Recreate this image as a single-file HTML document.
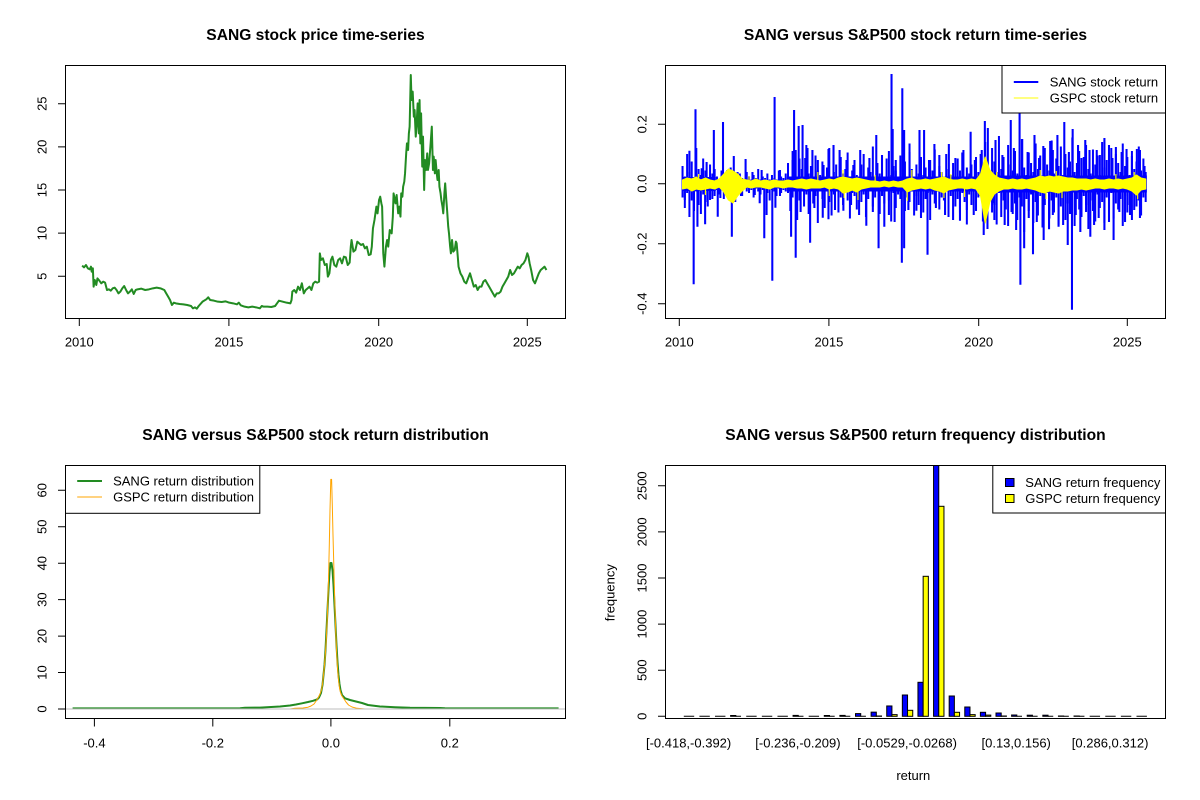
<!DOCTYPE html>
<html><head><meta charset="utf-8"><style>
html,body{margin:0;padding:0;background:#fff;}
svg{display:block;}
text{font-family:"Liberation Sans",Arial,sans-serif;fill:#000;}
.t{font-size:15.6px;font-weight:bold;}
.l{font-size:13px;}
</style></head><body>
<svg width="1200" height="800" viewBox="0 0 1200 800" xmlns="http://www.w3.org/2000/svg">
<rect width="1200" height="800" fill="#fff"/>
<defs>
<clipPath id="c1"><rect x="65.5" y="65.5" width="500" height="253"/></clipPath>
<clipPath id="c2"><rect x="665.5" y="65.5" width="500" height="253"/></clipPath>
<clipPath id="c3"><rect x="65.5" y="465.5" width="500" height="253"/></clipPath>
<clipPath id="c4"><rect x="665.5" y="465.5" width="500" height="253"/></clipPath>
</defs>

<!-- ================= TOP LEFT ================= -->
<text class="t" x="315.5" y="40" text-anchor="middle">SANG stock price time-series</text>
<g clip-path="url(#c1)">
<g transform="matrix(0.38212,0,0,0.33333,0,60)">
<polyline vector-effect="non-scaling-stroke" fill="none" stroke="#228B22" stroke-width="2" stroke-linejoin="round" points="215,617 220,622 225,615 230,625 235,628 238,620 240,635 243,625 245,680 248,660 252,675 255,655 260,662 265,670 270,665 275,668 280,690 285,688 290,692 295,685 300,683 305,690 310,700 315,695 320,685 325,678 330,690 335,700 340,695 345,688 350,702 355,690 360,688 370,686 380,690 390,688 400,685 410,683 420,685 430,690 435,700 440,710 445,720 450,735 455,728 460,730 470,732 480,733 490,735 500,738 505,745 510,742 515,746 520,738 530,725 540,718 545,712 550,720 560,722 570,725 580,726 590,724 600,728 610,730 620,733 625,728 630,736 640,740 650,742 660,740 670,742 680,745 685,738 690,740 700,740 710,741 720,738 725,730 730,722 740,725 750,728 760,730 763,720 765,695 770,690 775,698 780,680 785,690 790,670 795,700 800,690 805,685 810,680 815,690 820,670 825,665 830,668 835,665 837,580 840,600 845,595 850,615 855,612 858,650 862,640 866,600 870,590 875,615 880,620 885,600 890,595 895,610 900,590 905,592 910,615 915,608 918,560 920,540 925,575 930,570 935,545 940,550 945,555 950,552 955,565 960,560 965,585 970,583 973,560 976,505 980,480 985,440 988,460 992,420 995,410 998,430 1000,440 1003,580 1006,620 1010,560 1013,540 1016,560 1020,510 1025,520 1028,470 1030,400 1035,430 1038,405 1042,460 1045,440 1048,470 1050,400 1053,410 1055,380 1058,365 1060,340 1063,280 1065,250 1068,270 1070,220 1072,200 1075,45 1077,120 1080,95 1083,170 1085,150 1088,230 1090,200 1093,130 1096,220 1098,120 1100,250 1102,160 1105,320 1107,230 1110,390 1112,300 1115,330 1118,280 1120,330 1123,310 1125,280 1127,250 1130,200 1133,330 1135,290 1138,340 1140,300 1143,340 1145,360 1148,330 1150,380 1153,400 1155,420 1158,440 1160,460 1163,400 1165,370 1168,420 1170,450 1173,500 1175,520 1178,560 1180,580 1183,540 1186,575 1190,570 1193,545 1195,550 1198,590 1200,620 1205,640 1210,650 1215,665 1220,670 1225,655 1230,640 1235,660 1240,680 1245,675 1250,690 1255,680 1260,680 1265,665 1270,660 1275,670 1280,680 1285,690 1290,700 1295,710 1300,700 1305,700 1310,695 1315,680 1320,670 1325,660 1330,650 1335,630 1340,645 1345,640 1350,630 1355,620 1360,625 1365,615 1370,610 1375,600 1380,580 1383,590 1386,610 1390,630 1395,660 1400,670 1405,655 1410,640 1415,630 1420,625 1425,620 1430,630"/>
</g>
</g>
<rect x="65.5" y="65.5" width="500" height="253" fill="none" stroke="#000" stroke-width="1"/>
<path d="M79.3,318.5V326M228.9,318.5V326M378.7,318.5V326M527.3,318.5V326M58,276.3H65.5M58,233.15H65.5M58,190H65.5M58,146.85H65.5M58,103.7H65.5" stroke="#000" stroke-width="1"/>
<text class="l" x="79.3" y="346.5" text-anchor="middle">2010</text>
<text class="l" x="228.9" y="346.5" text-anchor="middle">2015</text>
<text class="l" x="378.7" y="346.5" text-anchor="middle">2020</text>
<text class="l" x="527.3" y="346.5" text-anchor="middle">2025</text>
<text class="l" transform="translate(46.3,276.3) rotate(-90)" text-anchor="middle">5</text>
<text class="l" transform="translate(46.3,233.15) rotate(-90)" text-anchor="middle">10</text>
<text class="l" transform="translate(46.3,190) rotate(-90)" text-anchor="middle">15</text>
<text class="l" transform="translate(46.3,146.85) rotate(-90)" text-anchor="middle">20</text>
<text class="l" transform="translate(46.3,103.7) rotate(-90)" text-anchor="middle">25</text>

<!-- ================= TOP RIGHT ================= -->
<text class="t" x="915.5" y="40" text-anchor="middle">SANG versus S&amp;P500 stock return time-series</text>
<g clip-path="url(#c2)">
<g transform="matrix(1.1464,0,0,1,-87.84,0)">
<path fill="#0000FF" d="M672,177H701V180H763V176.5H931V175.5H1077V192.5H931V191.5H763V188H701V191H672Z"/>
</g>
<g transform="matrix(1.1464,0,0,1.5,-87.84,-92)">
<path fill="none" stroke="#0000FF" stroke-width="1.75" d="M672,172V193M674,179V200M676,164V190M678,176V206M680,169V195M682,180V202M684,160V189M686,174V198M688,178V204M690,167V191M692,175V196M694,181V199M696,171V189M698,177V194M700,174V192M702,179V188M704,181V191M706,175V187M708,180V194M710,178V189M712,181V188M714,173V190M716,180V187M718,179V196M720,181V189M722,177V188M724,180V192M726,181V187M728,176V189M730,179V190M732,181V188M734,178V193M736,180V187M738,174V189M740,181V191M742,179V188M744,180V187M746,177V190M748,181V195M750,178V188M752,180V189M754,181V192M756,175V187M758,179V190M760,180V188M762,177V189M764,170V190M766,180V202M768,162V193M770,176V187M772,181V208M774,167V195M776,174V189M778,179V199M780,158V191M782,177V204M784,172V188M786,181V197M788,165V192M790,175V210M792,178V189M794,169V194M796,180V200M798,173V187M800,160V196M802,179V205M804,176V191M806,171V188M808,181V203M810,166V193M812,177V198M814,174V189M816,163V195M818,180V207M820,175V190M822,168V192M824,178V201M826,181V187M828,171V196M830,164V191M832,179V206M834,173V194M836,176V189M838,159V199M840,180V193M842,170V188M844,177V204M846,174V192M848,181V197M850,167V187M852,162V195M854,178V209M856,172V190M858,175V200M860,180V191M862,165V194M864,176V188M866,169V202M868,179V193M870,157V196M872,174V189M874,181V205M876,171V192M878,177V198M880,166V187M882,178V203M884,173V194M886,180V190M888,168V208M890,175V191M892,161V197M894,179V188M896,172V201M898,176V193M900,181V195M902,164V189M904,174V206M906,178V192M908,170V187M910,180V199M912,167V194M914,175V203M916,163V190M918,179V196M920,173V211M922,177V191M924,171V198M926,181V189M928,166V202M930,176V193M932,164V192M934,178V209M936,156V196M938,172V214M940,179V191M942,160V203M944,169V198M946,176V211M948,152V190M950,174V206M952,166V195M954,179V201M956,158V212M958,171V189M960,175V204M962,162V197M964,177V208M966,168V193M968,154V199M970,173V216M972,178V194M974,163V202M976,170V191M978,176V210M980,157V196M982,174V205M984,165V192M986,179V213M988,160V198M990,171V190M992,175V207M994,155V195M996,177V203M998,167V193M1000,172V211M1002,159V199M1004,178V191M1006,164V208M1008,173V197M1010,169V204M1012,153V189M1014,176V212M1016,170V194M1018,162V201M1020,179V206M1022,166V192M1024,158V198M1026,174V214M1028,177V195M1030,161V202M1032,171V209M1034,165V191M1036,178V200M1038,156V196M1040,173V210M1042,168V193M1044,175V204M1046,160V190M1048,179V207M1050,164V197M1052,170V201M1054,176V194M1056,157V212M1058,172V192M1060,166V203M1062,178V198M1064,162V208M1066,174V191M1068,169V199M1070,159V195M1072,175V205M1074,167V193M1076,176V196"/>
</g>
<g transform="matrix(1.1464,0,0,1,-87.84,0)">
<path fill="none" stroke="#0000FF" stroke-width="1.8" d="M678,184V150.7M683.3,184V109.3M688.7,184V168.3M699.3,184V130M707.3,184V122M716.7,184V156M727,184V159M752.3,184V97M769.3,184V110M770.7,184V150M773.3,184V126M776.7,184V125M781,184V148M785.3,184V150M799.3,184V149M803.7,184V145M809,184V150M827,184V150M841,184V135M854.3,184V74M855.3,184V129M863.7,184V88.3M865.3,184V130M878.7,184V130M882.7,184V130M891.7,184V144M904.3,184V144M923.3,184V131.7M935.7,184V121M938.3,184V128M958.3,184V120M966,184V110M968.3,184V139M986.7,184V146M992.7,184V141M1005,184V122M1012.3,184V129M1023.3,184V140M1033.3,184V150M1040,184V138M1050,184V147M1059.3,184V149M1068.3,184V149M1075,184V166M681.7,184V284.3M685,184V226.7M691.7,184V224.3M702.7,184V216.7M715,184V236.7M739.3,184V203.3M743.3,184V238.3M745.3,184V215M750.3,184V280.7M753,184V207.7M766.7,184V236.7M770.7,184V257.7M783.3,184V242.7M794.3,184V217.7M799.3,184V219.3M812.3,184V210.7M832.3,184V225.7M843,184V248.3M848,184V226.7M863.3,184V262.7M865.3,184V248.3M876,184V210.7M885.7,184V254.7M914,184V220.7M934.7,184V235M942.3,184V203.3M966.7,184V284.7M970,184V248.3M977.7,184V254.3M991.7,184V229.3M1000,184V226.7M1011.7,184V309.7M1027.7,184V236.7M1040,184V230M1062.3,184V215M933,184V150M945,184V140M951,184V155M961,184V148M973,184V152M979,184V135M983,184V158M995,184V150M999,184V135M1009,184V152M1017,184V145M1020,184V158M1027,184V150M1036,184V155M1044,184V145M1047,184V158M1055,184V152M1064,184V156M1071,184V150M937,184V215M944,184V220M953,184V225M959,184V212M963,184V230M974,184V218M981,184V222M987,184V240M995,184V215M1004,184V225M1008,184V245M1015,184V215M1019,184V232M1024,184V212M1031,184V225M1035,184V218M1044,184V222M1048,184V240M1053,184V212M1058,184V222M1066,184V210M1071,184V218M768,184V160M779,184V158M790,184V160M795,184V165M815,184V160M821,184V165M835,184V158M846,184V155M858,184V160M870,184V152M887,184V160M896,184V155M910,184V158M917,184V150M927,184V160M775,184V212M787,184V208M805,184V210M819,184V205M826,184V215M838,184V212M852,184V215M857,184V222M869,184V210M880,184V218M893,184V208M901,184V215M908,184V220M920,184V210M926,184V215M693,184V162M711,184V170M720,184V172M733,184V172M741,184V170M757,184V170M674,184V200M696,184V200M705,184V198M723,184V196M735,184V195M757,184V196"/>
<polygon fill="#FFFF00" stroke="#FFFF00" stroke-width="1" stroke-linejoin="round" points="672,180 676,178 680,179 684,177 688,180 692,178 696,180 700,181 704,179 708,174 712,169 716,171 720,174 724,179 728,180 732,181 736,179 740,181 744,180 748,181 752,180 756,181 760,181 764,180 768,181 772,180 776,179 780,180 784,179 788,180 792,181 796,180 800,179 804,180 808,178 812,177 816,178 820,179 824,178 828,179 832,180 836,181 840,181 844,182 848,181 852,182 856,181 860,182 864,181 868,179 872,178 876,180 880,180 884,179 888,180 892,179 896,178 900,177 904,179 908,180 912,180 916,179 920,180 924,179 928,180 932,174 936,157 940,170 944,175 948,178 952,179 956,180 960,179 964,180 968,179 972,180 976,179 980,178 984,176 988,177 992,176 996,177 1000,176 1004,177 1008,178 1012,178 1016,179 1020,179 1024,179 1028,180 1032,179 1036,180 1040,180 1044,179 1048,180 1052,179 1056,180 1060,179 1064,178 1068,175 1072,178 1076,179 1076,189 1072,190 1068,195 1064,191 1060,189 1056,188 1052,189 1048,188 1044,188 1040,189 1036,188 1032,188 1028,189 1024,190 1020,189 1016,190 1012,190 1008,191 1004,191 1000,193 996,192 992,191 988,193 984,192 980,190 976,189 972,188 968,189 964,189 960,188 956,189 952,189 948,191 944,194 940,202 936,223 932,196 928,189 924,188 920,189 916,188 912,188 908,189 904,190 900,193 896,191 892,190 888,188 884,189 880,188 876,189 872,190 868,192 864,187 860,187 856,186 852,187 848,186 844,187 840,187 836,187 832,188 828,189 824,192 820,190 816,192 812,193 808,189 804,188 800,189 796,187 792,188 788,188 784,188 780,189 776,188 772,188 768,187 764,187 760,188 756,187 752,187 748,189 744,188 740,187 736,187 732,188 728,187 724,191 720,196 716,203 712,200 708,192 704,187 700,189 696,188 692,189 688,190 684,189 680,191 676,188 672,189"/>
<path fill="none" stroke="#FFFF00" stroke-width="1" d="M790,184V172M800,184V196M812,184V170M813,184V198M825,184V200M840,184V175M868,184V201M872,184V170M898,184V172M900,184V198M906,184V174M918,184V197M946,184V172M984,184V170M989,184V199M998,184V171M1003,184V198M1050,184V174M1066,184V172M1069,184V199M686,184V174M692,184V195M730,184V176"/>
</g>
</g>
<rect x="1002" y="65.5" width="163.5" height="47.5" fill="#fff" stroke="#000" stroke-width="1"/>
<path d="M1013.8,82H1038.3" stroke="#0000FF" stroke-width="2"/>
<path d="M1013.8,98H1038.3" stroke="#FFFF00" stroke-width="1"/>
<text class="l" x="1049.8" y="86.6">SANG stock return</text>
<text class="l" x="1049.8" y="102.6">GSPC stock return</text>
<rect x="665.5" y="65.5" width="500" height="253" fill="none" stroke="#000" stroke-width="1"/>
<path d="M679.3,318.5V326M828.9,318.5V326M978.7,318.5V326M1127.3,318.5V326M658,124.3H665.5M658,183.7H665.5M658,243.7H665.5M658,303.7H665.5" stroke="#000" stroke-width="1"/>
<text class="l" x="679.3" y="346.5" text-anchor="middle">2010</text>
<text class="l" x="828.9" y="346.5" text-anchor="middle">2015</text>
<text class="l" x="978.7" y="346.5" text-anchor="middle">2020</text>
<text class="l" x="1127.3" y="346.5" text-anchor="middle">2025</text>
<text class="l" transform="translate(646.3,124.3) rotate(-90)" text-anchor="middle">0.2</text>
<text class="l" transform="translate(646.3,183.7) rotate(-90)" text-anchor="middle">0.0</text>
<text class="l" transform="translate(646.3,243.7) rotate(-90)" text-anchor="middle">-0.2</text>
<text class="l" transform="translate(646.3,303.7) rotate(-90)" text-anchor="middle">-0.4</text>

<!-- ================= BOTTOM LEFT ================= -->
<text class="t" x="315.5" y="440" text-anchor="middle">SANG versus S&amp;P500 stock return distribution</text>
<g clip-path="url(#c3)">
<polyline fill="none" stroke="#228B22" stroke-width="2" stroke-linejoin="round" points="72.6,708.4 240,708.3 245,707.8 260,707.6 280,706.5 290,705.5 296,704.5 302,703.3 308,702 313,700.8 317,699.5 319,697.5 321,693 322.5,685 323.5,675 324.5,665 325.5,650 326.5,630 327.5,610 328.5,590 329.5,572 330.5,563 331.5,563 332.5,570 333.5,585 334.5,605 335.5,625 336.5,645 337.5,662 338.5,675 339.5,684 340.5,690 342,695 345,698.3 350,700 356,701.5 362,703 368,705 380,706.5 395,707.3 410,707.8 440,708 445,708.3 558.6,708.4"/>
<polyline fill="none" stroke="#FFA500" stroke-width="1" stroke-linejoin="round" points="290,709 295,708.3 303,708 308,707.2 311,706 314,704 316.5,700.5 318.5,697 320,694 321.5,690 322.5,684 323.5,675 324.5,665 325.5,652 326.5,635 327.5,612 328.5,580 329.3,545 330,510 330.8,479.4 331.6,479.4 332.3,505 333,535 333.8,565 334.6,595 335.5,625 336.5,650 337.5,668 338.5,680 339.5,688 340.5,692.5 342,696 344,699 346,702 348.5,705 352,707 357,708.3 365,709"/>
<path d="M65.5,709H565.5" stroke="#BEBEBE" stroke-width="1"/>
</g>
<rect x="65.5" y="465.5" width="194.3" height="47.8" fill="#fff" stroke="#000" stroke-width="1"/>
<path d="M77.2,481H102" stroke="#228B22" stroke-width="2"/>
<path d="M77.2,497H102" stroke="#FFA500" stroke-width="1"/>
<text class="l" x="113.1" y="485.6">SANG return distribution</text>
<text class="l" x="113.1" y="501.6">GSPC return distribution</text>
<rect x="65.5" y="465.5" width="500" height="253" fill="none" stroke="#000" stroke-width="1"/>
<path d="M94.4,718.5V726.5M212.8,718.5V726.5M330.9,718.5V726.5M449.8,718.5V726.5M58,709H65.5M58,672.55H65.5M58,636.1H65.5M58,599.65H65.5M58,563.2H65.5M58,526.75H65.5M58,490.3H65.5" stroke="#000" stroke-width="1"/>
<text class="l" x="94.4" y="747.5" text-anchor="middle">-0.4</text>
<text class="l" x="212.8" y="747.5" text-anchor="middle">-0.2</text>
<text class="l" x="330.9" y="747.5" text-anchor="middle">0.0</text>
<text class="l" x="449.8" y="747.5" text-anchor="middle">0.2</text>
<text class="l" transform="translate(46.3,709) rotate(-90)" text-anchor="middle">0</text>
<text class="l" transform="translate(46.3,672.55) rotate(-90)" text-anchor="middle">10</text>
<text class="l" transform="translate(46.3,636.1) rotate(-90)" text-anchor="middle">20</text>
<text class="l" transform="translate(46.3,599.65) rotate(-90)" text-anchor="middle">30</text>
<text class="l" transform="translate(46.3,563.2) rotate(-90)" text-anchor="middle">40</text>
<text class="l" transform="translate(46.3,526.75) rotate(-90)" text-anchor="middle">50</text>
<text class="l" transform="translate(46.3,490.3) rotate(-90)" text-anchor="middle">60</text>

<!-- ================= BOTTOM RIGHT ================= -->
<text class="t" x="915.5" y="440" text-anchor="middle">SANG versus S&amp;P500 return frequency distribution</text>
<g clip-path="url(#c4)" stroke="#000" stroke-width="1">
<path d="M683.8,716.3h10.4M699.41,716.3h10.4M715.02,716.3h10.4M746.24,716.3h10.4M761.85,716.3h10.4M777.46,716.3h10.4M808.68,716.3h10.4M1089.66,716.3h10.4M1105.27,716.3h10.4M1120.88,716.3h10.4M1136.49,716.3h10.4M735.83,716.3h5.2M798.27,716.3h5.2M829.49,716.3h5.2M845.1,716.3h5.2M860.71,716.3h5.2M1016.81,716.3h5.2M1032.42,716.3h5.2M1048.03,716.3h5.2M1063.64,716.3h5.2M1079.25,716.3h5.2" fill="none"/>
<g fill="#0000FF">
<rect x="730.63" y="715.5" width="5.2" height="0.8"/>
<rect x="793.07" y="715.4" width="5.2" height="0.9"/>
<rect x="824.29" y="715.5" width="5.2" height="0.8"/>
<rect x="839.9" y="715.4" width="5.2" height="0.9"/>
<rect x="855.51" y="713.6" width="5.2" height="2.7"/>
<rect x="871.12" y="712.15" width="5.2" height="4.15"/>
<rect x="886.73" y="705.97" width="5.2" height="10.33"/>
<rect x="902.34" y="695" width="5.2" height="21.3"/>
<rect x="917.95" y="682.3" width="5.2" height="34"/>
<rect x="933.56" y="465" width="5.2" height="251.3"/>
<rect x="949.17" y="696" width="5.2" height="20.3"/>
<rect x="964.78" y="707" width="5.2" height="9.3"/>
<rect x="980.39" y="712.3" width="5.2" height="4"/>
<rect x="996" y="713" width="5.2" height="3.3"/>
<rect x="1011.61" y="715" width="5.2" height="1.3"/>
<rect x="1027.22" y="715.2" width="5.2" height="1.1"/>
<rect x="1042.83" y="715.2" width="5.2" height="1.1"/>
<rect x="1058.44" y="716" width="5.2" height="0.3"/>
<rect x="1074.05" y="716" width="5.2" height="0.3"/>
</g>
<g fill="#FFFF00">
<rect x="876.32" y="716" width="5.2" height="0.3"/>
<rect x="891.93" y="714.64" width="5.2" height="1.66"/>
<rect x="907.54" y="710.3" width="5.2" height="6"/>
<rect x="923.15" y="576.3" width="5.2" height="140"/>
<rect x="938.76" y="506.3" width="5.2" height="210"/>
<rect x="954.37" y="712.3" width="5.2" height="4"/>
<rect x="969.98" y="714.64" width="5.2" height="1.66"/>
<rect x="985.59" y="715.1" width="5.2" height="1.2"/>
<rect x="1001.2" y="716" width="5.2" height="0.3"/>
</g>
</g>
<rect x="992.8" y="465.5" width="172.7" height="47.5" fill="#fff" stroke="#000" stroke-width="1"/>
<rect x="1005.5" y="478.5" width="8.5" height="8" fill="#0000FF" stroke="#000" stroke-width="1"/>
<rect x="1005.5" y="494.5" width="8.5" height="8" fill="#FFFF00" stroke="#000" stroke-width="1"/>
<text class="l" x="1025.3" y="487">SANG return frequency</text>
<text class="l" x="1025.3" y="503">GSPC return frequency</text>
<rect x="665.5" y="465.5" width="500" height="253" fill="none" stroke="#000" stroke-width="1"/>
<path d="M658,716.3H665.5M658,670.2H665.5M658,624.1H665.5M658,578H665.5M658,531.9H665.5M658,485.8H665.5" stroke="#000" stroke-width="1"/>
<text class="l" transform="translate(646.3,716.3) rotate(-90)" text-anchor="middle">0</text>
<text class="l" transform="translate(646.3,670.2) rotate(-90)" text-anchor="middle">500</text>
<text class="l" transform="translate(646.3,624.1) rotate(-90)" text-anchor="middle">1000</text>
<text class="l" transform="translate(646.3,578) rotate(-90)" text-anchor="middle">1500</text>
<text class="l" transform="translate(646.3,531.9) rotate(-90)" text-anchor="middle">2000</text>
<text class="l" transform="translate(646.3,485.8) rotate(-90)" text-anchor="middle">2500</text>
<text class="l" x="688.6" y="747.5" text-anchor="middle">[-0.418,-0.392)</text>
<text class="l" x="797.9" y="747.5" text-anchor="middle">[-0.236,-0.209)</text>
<text class="l" x="907.1" y="747.5" text-anchor="middle">[-0.0529,-0.0268)</text>
<text class="l" x="1016.2" y="747.5" text-anchor="middle">[0.13,0.156)</text>
<text class="l" x="1110.1" y="747.5" text-anchor="middle">[0.286,0.312)</text>
<text class="l" x="913.3" y="780" text-anchor="middle">return</text>
<text class="l" transform="translate(614.5,592.7) rotate(-90)" text-anchor="middle">frequency</text>
</svg>
</body></html>
